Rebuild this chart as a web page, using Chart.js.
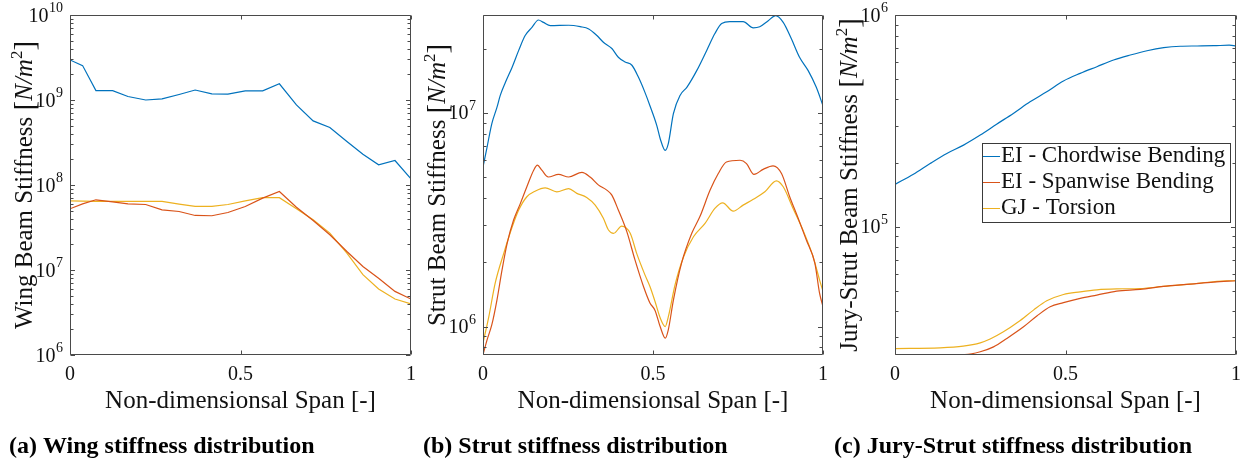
<!DOCTYPE html>
<html>
<head>
<meta charset="utf-8">
<title>Beam stiffness distributions</title>
<script src="https://cdn.jsdelivr.net/npm/chart.js@4.4.1/dist/chart.umd.min.js"></script>
<style>
  html, body { margin: 0; padding: 0; background: #fff; }
  #wrap { position: relative; width: 1246px; height: 463px; }
  #wrap canvas { position: absolute; left: 0; top: 0; }
</style>
</head>
<body>
<div id="wrap">
  <canvas id="wingChart" width="1246" height="463"></canvas>
  <canvas id="strutChart" width="1246" height="463"></canvas>
  <canvas id="juryChart" width="1246" height="463"></canvas>
</div>
<script>
// ---- shared labels / ticks ----
const seriesNames = ["EI - Chordwise Bending", "EI - Spanwise Bending", "GJ - Torsion"];
const seriesColors = ["#0072BD", "#D95319", "#EDB120"];
const xTicks = [0, 0.5, 1];
const xTickLabels = ["0", "0.5", "1"];

// ---- (a) wing ----
const wingX = [0, 0.037, 0.076, 0.125, 0.170, 0.222, 0.270, 0.320, 0.367, 0.416, 0.463,
  0.514, 0.565, 0.614, 0.664, 0.713, 0.762, 0.812, 0.859, 0.905, 0.953, 1.0];
const wingChord = [2.96e9, 2.54e9, 1.29e9, 1.29e9, 1.10e9, 1.0e9, 1.03e9, 1.16e9, 1.31e9, 1.18e9, 1.17e9,
  1.28e9, 1.28e9, 1.55e9, 8.75e8, 5.68e8, 4.74e8, 3.25e8, 2.30e8, 1.73e8, 1.94e8, 1.18e8];
const wingSpan = [5.25e7, 6.0e7, 6.7e7, 6.34e7, 6.0e7, 5.9e7, 5.1e7, 4.88e7, 4.38e7, 4.35e7, 4.75e7,
  5.59e7, 7.0e7, 8.4e7, 5.48e7, 3.83e7, 2.6e7, 1.65e7, 1.10e7, 8.0e6, 5.6e6, 4.55e6];
const wingTorsion = [6.5e7, 6.45e7, 6.4e7, 6.4e7, 6.4e7, 6.4e7, 6.4e7, 5.96e7, 5.6e7, 5.6e7, 5.9e7,
  6.5e7, 7.1e7, 7.1e7, 5.25e7, 3.9e7, 2.72e7, 1.58e7, 8.8e6, 5.97e6, 4.55e6, 4.0e6];
const wingDecades = [6, 7, 8, 9, 10];

// ---- (b) strut ----
const strutChordX = [0, 0.012, 0.026, 0.041, 0.051, 0.066, 0.086, 0.105, 0.124, 0.144, 0.163, 0.178,
  0.198, 0.252, 0.286, 0.311, 0.335, 0.354, 0.379, 0.398, 0.418, 0.438, 0.457, 0.476, 0.491, 0.511,
  0.521, 0.536, 0.545, 0.560, 0.580, 0.600, 0.629, 0.658, 0.682, 0.702, 0.726, 0.765, 0.795, 0.814,
  0.839, 0.861, 0.883, 0.907, 0.931, 0.956, 0.980, 1.0];
const strutChord = [5.58e6, 6.92e6, 8.91e6, 1.06e7, 1.21e7, 1.39e7, 1.64e7, 1.96e7, 2.30e7, 2.51e7, 2.72e7, 2.65e7,
  2.56e7, 2.57e7, 2.53e7, 2.47e7, 2.30e7, 2.14e7, 2.0e7, 1.82e7, 1.73e7, 1.67e7, 1.47e7, 1.25e7, 1.08e7, 8.74e6,
  7.59e6, 6.68e6, 7.18e6, 9.91e6, 1.21e7, 1.32e7, 1.58e7, 1.96e7, 2.35e7, 2.62e7, 2.67e7, 2.67e7, 2.50e7, 2.53e7,
  2.70e7, 2.85e7, 2.65e7, 2.22e7, 1.82e7, 1.58e7, 1.32e7, 1.08e7];
const strutSpanX = [0, 0.012, 0.026, 0.041, 0.056, 0.071, 0.090, 0.110, 0.129, 0.149, 0.160, 0.173,
  0.192, 0.222, 0.252, 0.291, 0.315, 0.340, 0.364, 0.379, 0.398, 0.423, 0.447, 0.472, 0.491, 0.506,
  0.521, 0.536, 0.545, 0.560, 0.584, 0.614, 0.638, 0.668, 0.692, 0.716, 0.756, 0.775, 0.797, 0.824,
  0.853, 0.878, 0.902, 0.927, 0.951, 0.976, 0.990, 1.0];
const strutSpan = [7.38e5, 8.67e5, 1.02e6, 1.33e6, 1.84e6, 2.45e6, 3.15e6, 3.77e6, 4.51e6, 5.39e6, 5.69e6, 5.39e6,
  5.01e6, 5.15e6, 5.01e6, 5.27e6, 5.01e6, 4.59e6, 4.35e6, 4.12e6, 3.51e6, 2.78e6, 2.05e6, 1.54e6, 1.29e6, 1.19e6,
  1.0e6, 8.83e5, 9.66e5, 1.33e6, 1.98e6, 2.73e6, 3.27e6, 4.35e6, 5.2e6, 5.89e6, 6.0e6, 5.79e6, 5.15e6, 5.44e6,
  5.65e6, 5.2e6, 4.05e6, 3.21e6, 2.54e6, 1.98e6, 1.43e6, 1.24e6];
const strutTorsionX = [0, 0.017, 0.036, 0.061, 0.086, 0.105, 0.129, 0.153, 0.183, 0.217, 0.252, 0.276,
  0.305, 0.330, 0.354, 0.369, 0.384, 0.408, 0.433, 0.452, 0.476, 0.491, 0.506, 0.521, 0.536, 0.545,
  0.565, 0.590, 0.619, 0.653, 0.682, 0.705, 0.736, 0.765, 0.795, 0.829, 0.863, 0.883, 0.912, 0.941,
  0.971, 0.990, 1.0];
const strutTorsion = [8.37e5, 1.11e6, 1.60e6, 2.20e6, 2.93e6, 3.51e6, 4.05e6, 4.30e6, 4.46e6, 4.27e6, 4.42e6, 4.20e6,
  4.02e6, 3.70e6, 3.21e6, 2.83e6, 2.73e6, 2.95e6, 2.73e6, 2.20e6, 1.75e6, 1.54e6, 1.31e6, 1.10e6, 1.0e6, 1.11e6,
  1.57e6, 2.12e6, 2.63e6, 3.04e6, 3.57e6, 3.79e6, 3.47e6, 3.70e6, 3.94e6, 4.27e6, 4.81e6, 4.51e6, 3.57e6, 2.83e6,
  2.12e6, 1.65e6, 1.46e6];
const strutDecades = [6, 7];

// ---- (c) jury strut ----
const juryChordX = [0, 0.054, 0.103, 0.152, 0.201, 0.250, 0.298, 0.347, 0.396, 0.445, 0.494,
  0.543, 0.592, 0.641, 0.690, 0.739, 0.788, 0.837, 0.886, 0.935, 0.980, 1.0];
const juryChord = [1.585e5, 1.77e5, 1.99e5, 2.22e5, 2.43e5, 2.71e5, 3.05e5, 3.43e5, 3.89e5, 4.34e5, 4.88e5,
  5.30e5, 5.70e5, 6.13e5, 6.47e5, 6.78e5, 7.01e5, 7.12e5, 7.14e5, 7.16e5, 7.20e5, 7.14e5];
const jurySpanX = [0, 0.132, 0.205, 0.250, 0.289, 0.328, 0.377, 0.416, 0.455, 0.494, 0.543,
  0.592, 0.650, 0.719, 0.787, 0.866, 0.934, 1.0];
const jurySpan = [2.48e4, 2.48e4, 2.49e4, 2.57e4, 2.71e4, 2.97e4, 3.37e4, 3.79e4, 4.19e4, 4.38e4, 4.59e4,
  4.76e4, 4.97e4, 5.06e4, 5.23e4, 5.36e4, 5.48e4, 5.56e4];
const juryTorsionX = [0, 0.132, 0.200, 0.250, 0.279, 0.318, 0.362, 0.406, 0.445, 0.494, 0.543,
  0.592, 0.650, 0.719, 0.787, 0.866, 0.934, 0.973, 1.0];
const juryTorsion = [2.66e4, 2.68e4, 2.73e4, 2.83e4, 2.95e4, 3.19e4, 3.56e4, 4.04e4, 4.47e4, 4.79e4, 4.93e4,
  5.04e4, 5.09e4, 5.11e4, 5.23e4, 5.36e4, 5.50e4, 5.56e4, 5.56e4];
const juryDecades = [5, 6];

// ---- layout ----
const W = 1246, H = 463;
const plotTop = 15, plotBottom = 355;
const axisColor = "#4a4a4a";
const textColor = "#111";
const serif = '"Liberation Serif", "Times New Roman", serif';

function pts(xs, ys) {
  return xs.map((x, i) => ({ x: x, y: ys[i] }));
}

// draws a run of text pieces with different fonts, centred on (cx, cy)
function drawRich(ctx, parts, cx, cy, rotate) {
  ctx.save();
  ctx.translate(cx, cy);
  if (rotate) ctx.rotate(-Math.PI / 2);
  ctx.textAlign = "left";
  ctx.textBaseline = "alphabetic";
  let total = 0;
  parts.forEach(p => { ctx.font = p.font; p.w = ctx.measureText(p.text).width; total += p.w; });
  let x = -total / 2;
  parts.forEach(p => {
    ctx.font = p.font;
    ctx.fillText(p.text, x, p.dy || 0);
    x += p.w;
  });
  ctx.restore();
}

function unitParts(prefix) {
  return [
    { text: prefix + " ", font: "25px " + serif },
    { text: "[", font: "29px " + serif, dy: 2 },
    { text: "N/m", font: "italic 25px " + serif },
    { text: "2", font: "17px " + serif, dy: -10 },
    { text: "]", font: "29px " + serif, dy: 2 }
  ];
}

function axesPlugin(p) {
  return {
    id: "axesFrame",
    afterDraw(chart) {
      const ctx = chart.ctx;
      const a = chart.chartArea;
      const xs = chart.scales.x, ys = chart.scales.y;
      const L = Math.round(a.left) + 0.5, R = Math.round(a.right) - 0.5;
      const T = Math.round(a.top) + 0.5, B = Math.round(a.bottom) - 0.5;

      ctx.save();
      ctx.strokeStyle = axisColor;
      ctx.lineWidth = 1;
      ctx.beginPath();
      ctx.rect(L, T, R - L, B - T);

      // inward ticks, both sides of the box
      xTicks.forEach(v => {
        const px = Math.round(xs.getPixelForValue(v)) + 0.5;
        ctx.moveTo(px, B); ctx.lineTo(px, B - 4);
        ctx.moveTo(px, T); ctx.lineTo(px, T + 4);
      });
      const lo = Math.floor(Math.log10(ys.min)), hi = Math.ceil(Math.log10(ys.max));
      for (let d = lo; d <= hi; d++) {
        for (let k = 1; k < 10; k++) {
          const v = k * Math.pow(10, d);
          if (v < ys.min * 0.999 || v > ys.max * 1.001) continue;
          const py = Math.round(ys.getPixelForValue(v)) + 0.5;
          const len = k === 1 ? 4.5 : 3;
          ctx.moveTo(L, py); ctx.lineTo(L + len, py);
          ctx.moveTo(R, py); ctx.lineTo(R - len, py);
        }
      }
      ctx.stroke();

      // tick labels
      ctx.fillStyle = textColor;
      ctx.font = "20px " + serif;
      ctx.textAlign = "center";
      ctx.textBaseline = "alphabetic";
      xTicks.forEach((v, i) => {
        ctx.fillText(xTickLabels[i], xs.getPixelForValue(v), 380);
      });
      p.decades.forEach(d => {
        const py = ys.getPixelForValue(Math.pow(10, d));
        ctx.font = "14px " + serif;
        const ew = ctx.measureText(String(d)).width;
        const ex = a.left - 7 - ew;
        ctx.textAlign = "left";
        ctx.fillText(String(d), ex, py - 3);
        ctx.font = "20px " + serif;
        ctx.textAlign = "right";
        ctx.fillText("10", ex - 0.5, py + 6.5);
      });

      // axis titles
      drawRich(ctx, [{ text: "Non-dimensionsal Span [-]", font: "25px " + serif }],
        (a.left + a.right) / 2, 408, false);
      drawRich(ctx, unitParts(p.yTitle), a.left - 38, (a.top + a.bottom) / 2, true);

      // caption under the panel
      ctx.font = "bold 24px " + serif;
      ctx.textAlign = "left";
      ctx.fillStyle = "#000";
      ctx.fillText(p.caption, p.captionX, 453);

      if (p.legend) drawLegend(ctx, chart, p.legend);
      ctx.restore();
    }
  };
}

function drawLegend(ctx, chart, box) {
  ctx.save();
  ctx.fillStyle = "#fff";
  ctx.fillRect(box.x, box.y, box.w, box.h);
  ctx.strokeStyle = "#3a3a3a";
  ctx.lineWidth = 1;
  ctx.strokeRect(box.x + 0.5, box.y + 0.5, box.w - 1, box.h - 1);
  ctx.font = '23px "Liberation Serif", serif';
  ctx.textAlign = "left";
  ctx.textBaseline = "alphabetic";
  chart.data.datasets.forEach((ds, i) => {
    const base = box.y + 19 + i * 26;
    ctx.strokeStyle = ds.borderColor;
    ctx.beginPath();
    ctx.moveTo(box.x + 1, base - 5.5);
    ctx.lineTo(box.x + 18, base - 5.5);
    ctx.stroke();
    ctx.fillStyle = textColor;
    ctx.fillText(ds.label, box.x + 19, base);
  });
  ctx.restore();
}

function makeChart(id, p) {
  return new Chart(document.getElementById(id), {
    type: "line",
    data: {
      datasets: p.series.map((s, i) => ({
        label: seriesNames[i],
        data: pts(s[0], s[1]),
        borderColor: seriesColors[i],
        borderWidth: 1.2,
        pointRadius: 0,
        fill: false,
        tension: p.smooth ? 0.4 : 0,
        cubicInterpolationMode: p.smooth ? "monotone" : "default"
      }))
    },
    options: {
      responsive: false,
      animation: false,
      devicePixelRatio: 1,
      events: [],
      layout: { padding: { left: p.left, right: W - p.right, top: plotTop, bottom: H - plotBottom } },
      scales: {
        x: { type: "linear", min: 0, max: 1, display: false },
        y: { type: "logarithmic", min: p.yMin, max: p.yMax, display: false }
      },
      plugins: { legend: { display: false }, tooltip: { enabled: false } }
    },
    plugins: [axesPlugin(p)]
  });
}

makeChart("wingChart", {
  left: 70, right: 411, yMin: 1e6, yMax: 1e10, smooth: false,
  series: [[wingX, wingChord], [wingX, wingSpan], [wingX, wingTorsion]],
  decades: wingDecades,
  yTitle: "Wing Beam Stiffness",
  caption: "(a) Wing stiffness distribution", captionX: 9
});

makeChart("strutChart", {
  left: 483, right: 823, yMin: 7.36e5, yMax: 2.87e7, smooth: true,
  series: [[strutChordX, strutChord], [strutSpanX, strutSpan], [strutTorsionX, strutTorsion]],
  decades: strutDecades,
  yTitle: "Strut Beam Stiffness",
  caption: "(b) Strut stiffness distribution", captionX: 423
});

makeChart("juryChart", {
  left: 895, right: 1236, yMin: 2.48e4, yMax: 1e6, smooth: true,
  series: [[juryChordX, juryChord], [jurySpanX, jurySpan], [juryTorsionX, juryTorsion]],
  decades: juryDecades,
  yTitle: "Jury-Strut Beam Stiffness",
  caption: "(c) Jury-Strut stiffness distribution", captionX: 834,
  legend: { x: 982, y: 143, w: 249, h: 80 }
});
</script>
</body>
</html>
